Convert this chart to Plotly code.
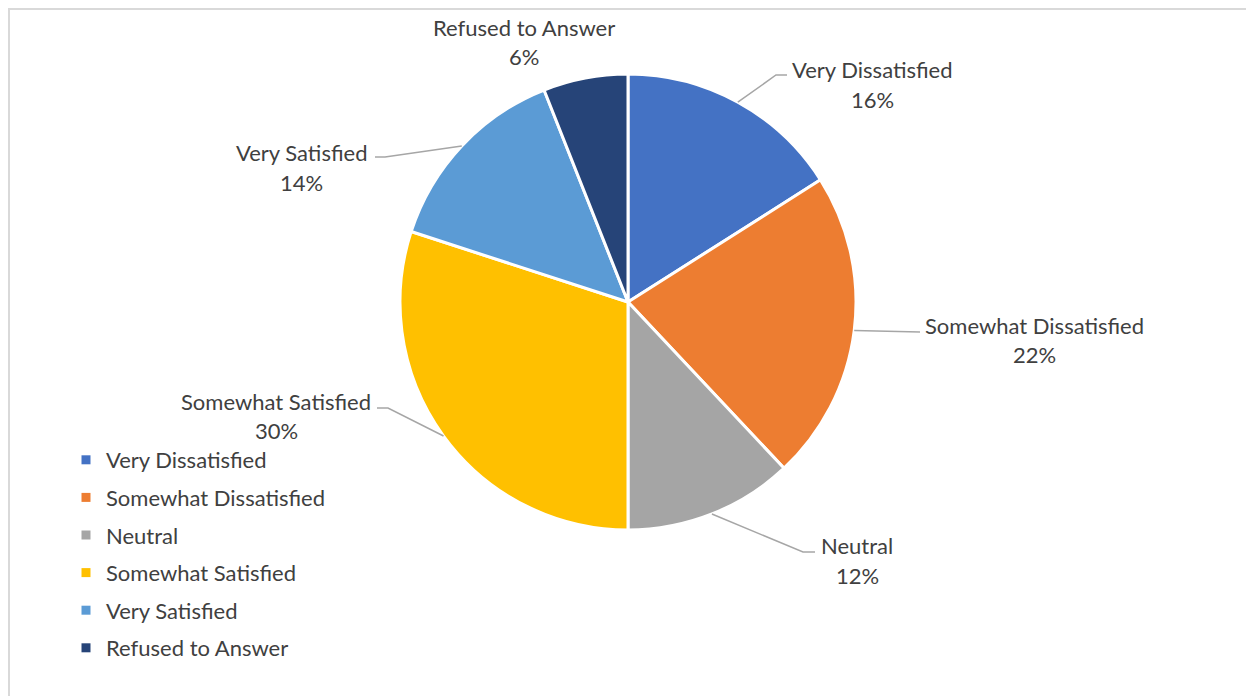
import math
import plotly.graph_objects as go

# Survey results
categories = ["Very Dissatisfied", "Somewhat Dissatisfied", "Neutral",
              "Somewhat Satisfied", "Very Satisfied", "Refused to Answer"]
shares = [16, 22, 12, 30, 14, 6]
colors = ["#4472C4", "#ED7D31", "#A5A5A5", "#FFC000", "#5B9BD5", "#264478"]

W, H = 1246, 696
CX, CY, R = 628, 302, 228          # pie centre and radius in pixels
FONT = "Lato"
FSIZE = 22
TEXT = "#404040"
LEADER = "#A6A6A6"

# Label block centre x, first-line y, second-line y (pixels)
label_pos = [(872, 70, 99), (1034, 325, 354), (857, 545, 575),
             (276, 401, 430), (301, 152, 182), (524, 27, 57)]
# Leader elbow and end points (pixels)
leaders = [((776, 75), (787, 75)), ((920, 332), (920, 332)), ((803, 552), (815, 552)),
           ((388, 408), (377, 408)), ((385, 157), (375, 157)), None]


def px(x):
    return x / W


def py(y):
    return 1 - y / H


fig = go.Figure()

fig.add_trace(go.Pie(
    labels=categories, values=shares, sort=False, direction="clockwise",
    rotation=0, textinfo="none", hoverinfo="label+percent",
    marker=dict(colors=colors, line=dict(color="white", width=3)),
    domain=dict(x=[px(CX - R), px(CX + R)], y=[py(CY + R), py(CY - R)]),
    showlegend=False,
))

# Legend entries
for name, col in zip(categories, colors):
    fig.add_trace(go.Scatter(
        x=[None], y=[None], mode="markers", name=name, legendgroup=name,
        marker=dict(symbol="square", size=9, color=col),
        hoverinfo="skip",
    ))

annotations = []
shapes = []
total = sum(shares)
cum = 0
for i, (name, v) in enumerate(zip(categories, shares)):
    mid = (cum + v / 2) / total * 2 * math.pi
    cum += v
    pct = f"{round(100 * v / total)}%"
    lx, y1, y2 = label_pos[i]
    for txt, yy in ((name, y1), (pct, y2)):
        annotations.append(dict(x=px(lx), y=py(yy), xref="paper", yref="paper",
                                text=txt, showarrow=False, xanchor="center",
                                yanchor="middle",
                                font=dict(family=FONT, size=FSIZE, color=TEXT)))
    if leaders[i] is not None:
        ex = CX + R * math.sin(mid)
        ey = CY - R * math.cos(mid)
        (bx, by), (tx, ty) = leaders[i]
        path = f"M{px(ex)},{py(ey)} L{px(bx)},{py(by)} L{px(tx)},{py(ty)}"
        shapes.append(dict(type="path", xref="paper", yref="paper", path=path,
                           line=dict(color=LEADER, width=1.5)))

# Chart area frame
shapes.append(dict(type="rect", xref="paper", yref="paper",
                   x0=px(9), y0=py(H + 20), x1=px(W + 20), y1=py(9),
                   line=dict(color="#D9D9D9", width=2)))

fig.update_layout(
    width=W, height=H,
    margin=dict(l=0, r=0, t=0, b=0),
    paper_bgcolor="white", plot_bgcolor="white",
    xaxis=dict(visible=False), yaxis=dict(visible=False),
    annotations=annotations, shapes=shapes,
    legend=dict(x=px(66), y=py(439), xanchor="left", yanchor="top",
                tracegroupgap=6, font=dict(family=FONT, size=FSIZE, color=TEXT),
                bgcolor="rgba(0,0,0,0)"),
)

fig.write_html("out.html")
